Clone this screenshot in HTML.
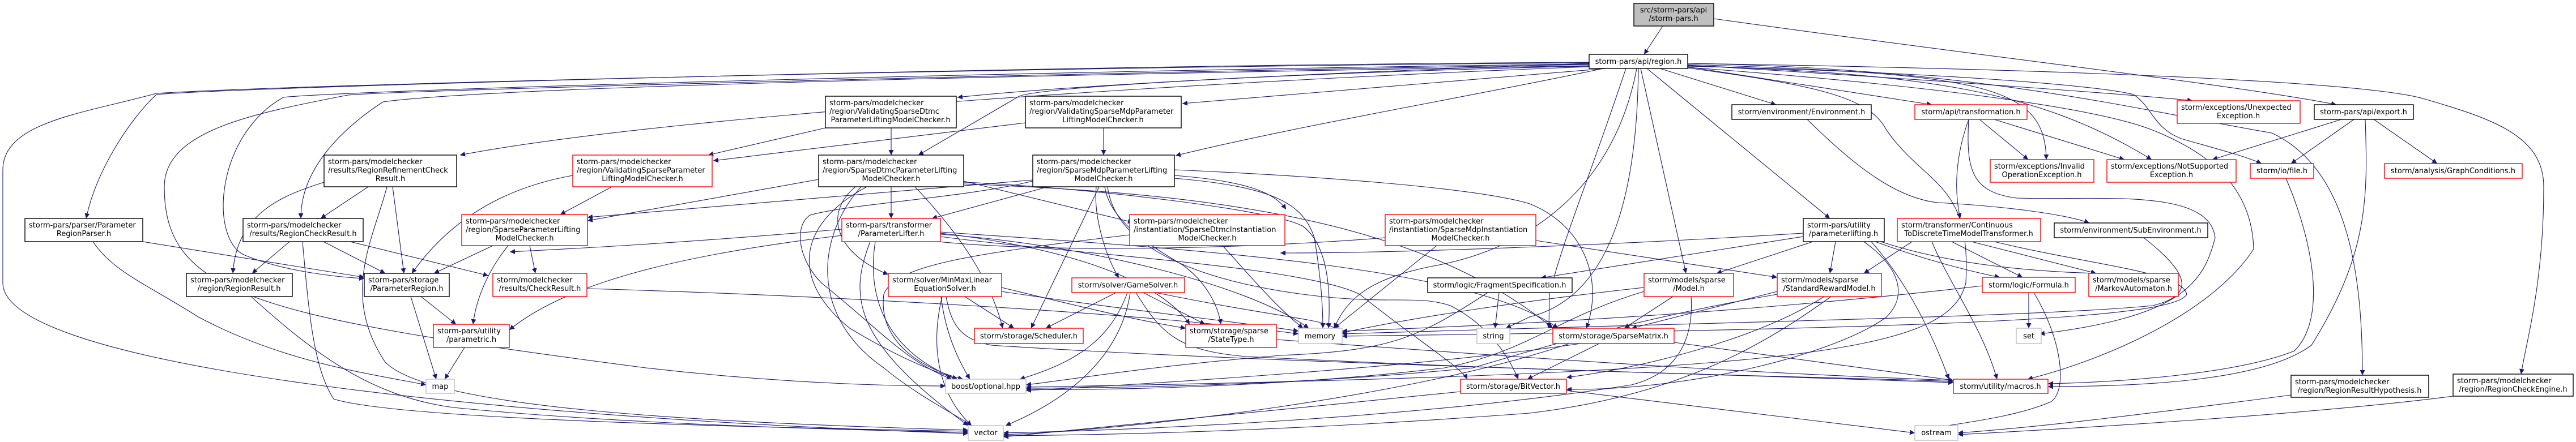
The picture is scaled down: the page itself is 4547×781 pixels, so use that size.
<!DOCTYPE html>
<html><head><meta charset="utf-8">
<style>
html,body{margin:0;padding:0;background:#fff;}
svg{display:block;}
text{font-family:"DejaVu Sans","Liberation Sans",sans-serif;font-size:13px;fill:#000;}
.e{fill:none;stroke:#191970;stroke-width:1.1;marker-end:url(#a);}
.b{fill:#fff;stroke:#000;stroke-width:1.4;}
.r{fill:#fff;stroke:#ff0000;stroke-width:1.4;}
.g{fill:#fff;stroke:#bfbfbf;stroke-width:1.4;}
</style></head><body>
<svg width="4547" height="781" viewBox="0 0 4547 781" xmlns="http://www.w3.org/2000/svg">
<defs><marker id="a" viewBox="0 0 10 10" refX="10" refY="5" markerWidth="9" markerHeight="9" markerUnits="userSpaceOnUse" orient="auto"><path d="M0,0 L10,5 L0,10 z" fill="#191970"/></marker></defs>
<g>
<!-- storm-pars.h -->
<path class="e" d="M2935,46 L2902,96"/>
<path class="e" d="M3025,33 C3500,100 3950,150 4124,185"/>
<!-- region.h edges left -->
<path class="e" d="M2805,110 C1800,115 400,155 276,167 C230,210 170,300 152,386"/>
<path class="e" d="M2805,111 C1800,118 500,150 276,165 C150,200 5,215 5,300 L5,500 C5,650 900,740 1709,766"/>
<path class="e" d="M2805,113 C1800,125 600,160 500,172 C380,240 370,420 430,450 C500,480 600,490 643,492"/>
<path class="e" d="M2805,114 C1800,130 700,160 614,168 C450,200 290,230 290,330 C290,520 450,560 1140,650 C1400,680 1600,682 1669,682"/>
<path class="e" d="M2805,116 C2000,130 900,150 676,180 C600,230 531,300 531,386"/>
<path class="e" d="M2805,118 C2200,140 1200,200 812,274"/>
<path class="e" d="M2805,112 C2300,130 1900,150 1690,172"/>
<path class="e" d="M2835,121 L2087,183"/>
<path class="e" d="M2830,121 C2600,170 2300,220 2075,275"/>
<path class="e" d="M2805,117 C2400,125 1850,150 1799,170 L1621,274"/>
<path class="e" d="M2930,121 L3135,185"/>
<path class="e" d="M2907,121 L3230,386"/>
<path class="e" d="M2896,121 L2976,483"/>
<path class="e" d="M2889,121 C2850,330 2700,440 2530,470 C2430,490 2380,520 2355,580"/>
<path class="e" d="M2892,121 C2890,300 2860,520 2700,560 L2658,580"/>
<path class="e" d="M2979,118 L3410,185"/>
<path class="e" d="M2979,115 C3400,140 3800,170 3870,178"/>
<path class="e" d="M2979,114 C3500,130 3610,150 3612,282"/>
<path class="e" d="M2979,116 C3400,130 3600,160 3798,282"/>
<path class="e" d="M2979,117 C3400,127 3700,150 3766,167 C3800,190 3800,225 3850,245 C3920,265 3960,275 3992,289"/>
<path class="e" d="M2979,119 C3400,150 3700,190 3800,230 C3900,270 3975,330 3978,440 C3900,560 3700,640 3579,670"/>
<path class="e" d="M2979,112 C3500,120 3800,200 4010,235 C4150,300 4170,500 4170,663"/>
<path class="e" d="M2979,112 C3800,125 4200,150 4280,175 C4400,210 4490,240 4490,330 C4490,500 4460,600 4450,661"/>
<path class="e" d="M2870,121 C2800,330 2760,420 2735,520 L2734,580"/>
<path class="e" d="M2979,120 C3200,150 3300,170 3330,230 C3400,330 3480,320 3470,500 C3440,620 3200,660 1811,684"/>
<!-- validating -->
<path class="e" d="M1457,226 L1250,274"/>
<path class="e" d="M1573,226 L1573,274"/>
<path class="e" d="M1810,217 L1259,284"/>
<path class="e" d="M1948,226 L1948,274"/>
<path class="e" d="M1080,330 L989,379"/>
<path class="e" d="M1011,310 C900,330 800,380 727,483"/>
<!-- results -->
<path class="e" d="M650,330 L566,386"/>
<path class="e" d="M572,322 C500,345 418,375 411,483"/>
<path class="e" d="M693,330 L713,483"/>
<path class="e" d="M683,330 C660,420 600,520 680,640 C760,720 1200,745 1709,760"/>
<path class="e" d="M511,427 L445,483"/>
<path class="e" d="M571,427 L680,483"/>
<path class="e" d="M618,427 L862,487"/>
<path class="e" d="M534,427 C545,550 553,650 589,705 C700,740 1300,755 1709,762"/>
<path class="e" d="M252,427 L643,490"/>
<path class="e" d="M164,427 C200,480 255,500 350,560 C500,640 650,660 752,680"/>
<path class="e" d="M443,524 C550,620 650,700 800,720 C1100,750 1500,760 1709,764"/>
<path class="e" d="M743,524 L805,573"/>
<path class="e" d="M725,524 L770,670"/>
<path class="e" d="M820,614 L785,670"/>
<path class="e" d="M870,434 L766,483"/>
<path class="e" d="M897,434 C860,480 840,530 835,573"/>
<path class="e" d="M935,434 L945,483"/>
<path class="e" d="M1036,510 C1400,520 2000,550 2292,590"/>
<!-- SDP / SMP -->
<path class="e" d="M1573,330 L1573,386"/>
<path class="e" d="M1701,320 L2000,393"/>
<path class="e" d="M1445,317 L1037,390"/>
<path class="e" d="M1823,318 L1037,384"/>
<path class="e" d="M1850,330 L1645,386"/>
<path class="e" d="M1935,330 C1930,380 1950,450 1975,491"/>
<path class="e" d="M1940,330 L1820,580"/>
<path class="e" d="M1950,330 C1960,400 2060,450 2090,470 C2130,500 2150,540 2155,573"/>
<path class="e" d="M2073,310 C2200,320 2250,340 2270,370"/>
<path class="e" d="M1510,330 C1450,380 1480,450 1568,485"/>
<path class="e" d="M1530,330 C1400,400 1400,500 1500,580 C1600,640 1660,660 1690,670"/>
<path class="e" d="M1520,330 C1440,420 1430,560 1560,650 C1620,700 1700,740 1715,752"/>
<path class="e" d="M1615,330 C1700,420 1750,500 1770,580"/>
<path class="e" d="M1701,325 C2100,340 2500,380 2741,580"/>
<path class="e" d="M1701,322 C1900,330 2250,370 2300,400 C2340,430 2350,500 2345,580"/>
<path class="e" d="M1823,320 C1700,350 1500,360 1430,380 C1400,400 1410,460 1450,500 C1550,580 1600,640 1680,670"/>
<path class="e" d="M2073,315 C2250,330 2300,360 2320,420 C2330,480 2335,530 2335,580"/>
<path class="e" d="M2073,300 C2300,310 2600,330 2700,360 C2800,400 2830,500 2800,580"/>
<path class="e" d="M1955,330 C1970,450 2150,500 2300,520 C2450,540 2500,520 2560,540 C2600,560 2650,600 2680,670"/>
<!-- ParameterLifter -->
<path class="e" d="M1486,416 C1200,450 1000,500 899,583"/>
<path class="e" d="M1486,405 C1200,430 1000,440 900,445"/>
<path class="e" d="M1536,427 C1500,520 1500,600 1709,752"/>
<path class="e" d="M1545,427 C1530,520 1560,620 1690,670"/>
<path class="e" d="M1660,410 C2100,440 2600,470 2750,580"/>
<path class="e" d="M1660,412 C1900,440 2050,500 2100,573"/>
<path class="e" d="M1660,414 C1900,430 2200,500 2310,580"/>
<path class="e" d="M1660,418 C1900,450 2300,470 2400,520 C2500,600 2580,650 2590,670"/>
<!-- SDI / SMI -->
<path class="e" d="M2158,434 C2200,480 2250,540 2300,580"/>
<path class="e" d="M1994,415 C1700,450 1580,470 1560,520 C1550,600 1620,650 1700,670"/>
<path class="e" d="M2536,434 L2355,580"/>
<path class="e" d="M2711,425 L3137,490"/>
<path class="e" d="M2445,420 C2200,440 1800,450 1600,420"/>
<!-- FS / Model / SRM / SM / BV -->
<path class="e" d="M2646,517 L2639,580"/>
<path class="e" d="M2626,517 C2500,600 2450,620 2260,628 C2000,650 1900,670 1811,680"/>
<path class="e" d="M2953,524 L2867,580"/>
<path class="e" d="M2902,508 C2700,530 2500,560 2369,588"/>
<path class="e" d="M2902,515 C2750,560 2700,620 2550,650 C2300,680 2000,690 1811,688"/>
<path class="e" d="M2985,524 C2990,600 2960,660 2880,680 C2500,740 2000,760 1771,765"/>
<path class="e" d="M3137,515 L2880,580"/>
<path class="e" d="M3220,524 C3100,600 2900,650 2765,667"/>
<path class="e" d="M3232,524 C3100,620 2950,700 2700,730 C2300,760 2000,768 1771,770"/>
<path class="e" d="M3137,520 C2900,560 2700,620 2600,650 C2300,680 2000,685 1811,686"/>
<path class="e" d="M2823,607 L2696,670"/>
<path class="e" d="M2955,605 L3448,672"/>
<path class="e" d="M2790,607 C2500,650 2000,680 1811,690"/>
<path class="e" d="M2770,607 C2500,700 2000,760 1771,768"/>
<path class="e" d="M2765,690 L3380,765"/>
<path class="e" d="M2578,692 C2300,720 2000,750 1771,772"/>
<!-- parameterlifting -->
<path class="e" d="M3183,418 L2720,491"/>
<path class="e" d="M3200,427 L3030,483"/>
<path class="e" d="M3240,427 L3230,483"/>
<path class="e" d="M3303,427 C3350,480 3400,560 3440,670"/>
<path class="e" d="M3310,427 C3400,460 3480,480 3530,490"/>
<path class="e" d="M3320,427 C3450,470 3600,480 3700,483"/>
<path class="e" d="M3183,412 C2900,430 2500,447 2260,447"/>
<path class="e" d="M3290,427 C3350,470 3370,520 3330,560 C3250,620 3000,690 2765,688"/>
<!-- CTD / TRF / ENV / SUB / Formula -->
<path class="e" d="M3375,427 L3290,483"/>
<path class="e" d="M3445,427 L3570,490"/>
<path class="e" d="M3480,427 L3700,483"/>
<path class="e" d="M3520,427 C3700,470 3850,480 3860,520 C3840,560 3500,580 2369,594"/>
<path class="e" d="M3494,211 L3580,282"/>
<path class="e" d="M3520,211 L3750,282"/>
<path class="e" d="M3475,211 C3450,280 3450,340 3460,386"/>
<path class="e" d="M3475,211 C3470,300 3480,340 3560,350 C3700,355 3900,330 3910,420 C3890,500 3850,560 3600,590"/>
<path class="e" d="M3190,211 C3280,300 3350,350 3420,358 C3550,365 3650,380 3688,394"/>
<path class="e" d="M3784,420 C3860,480 3880,520 3800,540 C3600,560 3000,570 2369,590"/>
<path class="e" d="M3581,517 L3581,580"/>
<path class="e" d="M3499,505 C3200,540 2800,570 2369,585"/>
<path class="e" d="M3590,517 C3640,600 3650,690 3620,710 C3550,740 3450,748 3380,762"/>
<path class="e" d="M3410,427 C3440,500 3500,580 3525,670"/>
<!-- export / file -->
<path class="e" d="M4133,211 L3905,282"/>
<path class="e" d="M4155,211 L4044,289"/>
<path class="e" d="M4190,211 L4302,289"/>
<path class="e" d="M4175,211 C4180,350 4180,450 4080,610 C4000,670 3800,683 3615,683"/>
<path class="e" d="M4035,315 C4080,420 4110,560 4050,620 C3950,660 3750,675 3615,678"/>
<path class="e" d="M4044,698 C3800,730 3600,755 3456,765"/>
<path class="e" d="M4330,700 C4100,730 3700,755 3456,768"/>
<!-- solvers -->
<path class="e" d="M1703,524 L1790,580"/>
<path class="e" d="M1768,508 C1900,540 2000,565 2093,580"/>
<path class="e" d="M1768,515 C2000,550 2200,570 2292,585"/>
<path class="e" d="M1661,524 C1670,600 1700,650 1712,670"/>
<path class="e" d="M1663,524 C1640,620 1660,700 1715,752"/>
<path class="e" d="M1670,524 C1680,580 1700,600 1750,610 C2200,640 3000,660 3448,676"/>
<path class="e" d="M1970,517 L1846,580"/>
<path class="e" d="M2018,517 L2127,573"/>
<path class="e" d="M1990,517 C1960,600 1900,640 1800,670"/>
<path class="e" d="M1995,517 C1980,620 1900,700 1775,752"/>
<path class="e" d="M2040,517 C2300,570 2340,560 2369,590"/>
<path class="e" d="M2005,517 C2050,590 2080,620 2200,630 C2800,660 3200,665 3448,674"/>
<path class="e" d="M2253,600 C2800,640 3100,660 3448,672"/>
</g>
<g>
<rect class="b" x="2884" y="6" width="141" height="40" style="fill:#bfbfbf"/>
<text x="2954" y="22" text-anchor="middle">src/storm-pars/api</text><text x="2954" y="37" text-anchor="middle">/storm-pars.h</text>
<rect class="b" x="2805" y="96" width="174" height="25"/><text x="2892" y="113" text-anchor="middle">storm-pars/api/region.h</text>
<rect class="b" x="3057" y="185" width="246" height="26"/><text x="3180" y="202" text-anchor="middle">storm/environment/Environment.h</text>
<rect class="r" x="3380" y="185" width="198" height="26"/><text x="3479" y="202" text-anchor="middle">storm/api/transformation.h</text>
<rect class="r" x="3843" y="178" width="217" height="40"/><text x="3850" y="194">storm/exceptions/Unexpected</text><text x="3951" y="209" text-anchor="middle">Exception.h</text>
<rect class="b" x="4085" y="185" width="175" height="26"/><text x="4172" y="202" text-anchor="middle">storm-pars/api/export.h</text>
<rect class="r" x="3513" y="282" width="183" height="40"/><text x="3520" y="298">storm/exceptions/Invalid</text><text x="3604" y="313" text-anchor="middle">OperationException.h</text>
<rect class="r" x="3719" y="282" width="228" height="40"/><text x="3726" y="298">storm/exceptions/NotSupported</text><text x="3833" y="313" text-anchor="middle">Exception.h</text>
<rect class="r" x="3972" y="289" width="112" height="26"/><text x="4028" y="306" text-anchor="middle">storm/io/file.h</text>
<rect class="r" x="4209" y="289" width="243" height="26"/><text x="4330" y="306" text-anchor="middle">storm/analysis/GraphConditions.h</text>
<rect class="r" x="3349" y="386" width="253" height="41"/><text x="3356" y="402">storm/transformer/Continuous</text><text x="3475" y="417" text-anchor="middle">ToDiscreteTimeModelTransformer.h</text>
<rect class="b" x="3626" y="394" width="271" height="26"/><text x="3761" y="411" text-anchor="middle">storm/environment/SubEnvironment.h</text>
<rect class="r" x="3499" y="490" width="164" height="27"/><text x="3581" y="508" text-anchor="middle">storm/logic/Formula.h</text>
<rect class="r" x="3687" y="483" width="158" height="41"/><text x="3694" y="499">storm/models/sparse</text><text x="3766" y="514" text-anchor="middle">/MarkovAutomaton.h</text>
<rect class="g" x="3559" y="580" width="44" height="27"/><text x="3581" y="598" text-anchor="middle">set</text>
<rect class="r" x="3448" y="670" width="167" height="25"/><text x="3531" y="687" text-anchor="middle">storm/utility/macros.h</text>
<rect class="b" x="4044" y="663" width="243" height="39"/><text x="4051" y="679">storm-pars/modelchecker</text><text x="4165" y="694" text-anchor="middle">/region/RegionResultHypothesis.h</text>
<rect class="b" x="4330" y="661" width="212" height="39"/><text x="4337" y="677">storm-pars/modelchecker</text><text x="4436" y="692" text-anchor="middle">/region/RegionCheckEngine.h</text>
<rect class="g" x="3380" y="752" width="76" height="26"/><text x="3418" y="769" text-anchor="middle">ostream</text>
<rect class="b" x="3183" y="386" width="143" height="41"/><text x="3190" y="402">storm-pars/utility</text><text x="3254" y="417" text-anchor="middle">/parameterlifting.h</text>
<rect class="r" x="2902" y="483" width="158" height="41"/><text x="2909" y="499">storm/models/sparse</text><text x="2981" y="514" text-anchor="middle">/Model.h</text>
<rect class="r" x="3137" y="483" width="184" height="41"/><text x="3144" y="499">storm/models/sparse</text><text x="3229" y="514" text-anchor="middle">/StandardRewardModel.h</text>
<rect class="r" x="2445" y="379" width="266" height="55"/><text x="2452" y="395">storm-pars/modelchecker</text><text x="2452" y="410">/instantiation/SparseMdpInstantiation</text><text x="2578" y="425" text-anchor="middle">ModelChecker.h</text>
<rect class="b" x="2520" y="491" width="255" height="26"/><text x="2647" y="508" text-anchor="middle">storm/logic/FragmentSpecification.h</text>
<rect class="g" x="2292" y="580" width="77" height="27"/><text x="2330" y="598" text-anchor="middle">memory</text>
<rect class="g" x="2607" y="580" width="58" height="27"/><text x="2636" y="598" text-anchor="middle">string</text>
<rect class="r" x="2741" y="580" width="214" height="27"/><text x="2848" y="598" text-anchor="middle">storm/storage/SparseMatrix.h</text>
<rect class="r" x="2578" y="670" width="187" height="25"/><text x="2671" y="687" text-anchor="middle">storm/storage/BitVector.h</text>
<rect class="b" x="1457" y="170" width="231" height="56"/><text x="1464" y="186">storm-pars/modelchecker</text><text x="1464" y="201">/region/ValidatingSparseDtmc</text><text x="1572" y="216" text-anchor="middle">ParameterLiftingModelChecker.h</text>
<rect class="b" x="1810" y="170" width="275" height="56"/><text x="1817" y="186">storm-pars/modelchecker</text><text x="1817" y="201">/region/ValidatingSparseMdpParameter</text><text x="1947" y="216" text-anchor="middle">LiftingModelChecker.h</text>
<rect class="r" x="1011" y="274" width="246" height="56"/><text x="1018" y="290">storm-pars/modelchecker</text><text x="1018" y="305">/region/ValidatingSparseParameter</text><text x="1134" y="320" text-anchor="middle">LiftingModelChecker.h</text>
<rect class="b" x="1445" y="274" width="256" height="56"/><text x="1452" y="290">storm-pars/modelchecker</text><text x="1452" y="305">/region/SparseDtmcParameterLifting</text><text x="1573" y="320" text-anchor="middle">ModelChecker.h</text>
<rect class="b" x="1823" y="274" width="250" height="56"/><text x="1830" y="290">storm-pars/modelchecker</text><text x="1830" y="305">/region/SparseMdpParameterLifting</text><text x="1948" y="320" text-anchor="middle">ModelChecker.h</text>
<rect class="r" x="1486" y="386" width="174" height="41"/><text x="1493" y="402">storm-pars/transformer</text><text x="1573" y="417" text-anchor="middle">/ParameterLifter.h</text>
<rect class="r" x="1994" y="379" width="274" height="55"/><text x="2001" y="395">storm-pars/modelchecker</text><text x="2001" y="410">/instantiation/SparseDtmcInstantiation</text><text x="2131" y="425" text-anchor="middle">ModelChecker.h</text>
<rect class="r" x="1568" y="483" width="200" height="41"/><text x="1575" y="499">storm/solver/MinMaxLinear</text><text x="1668" y="514" text-anchor="middle">EquationSolver.h</text>
<rect class="r" x="1892" y="491" width="199" height="26"/><text x="1991" y="508" text-anchor="middle">storm/solver/GameSolver.h</text>
<rect class="r" x="1720" y="580" width="192" height="27"/><text x="1816" y="598" text-anchor="middle">storm/storage/Scheduler.h</text>
<rect class="r" x="2093" y="573" width="160" height="41"/><text x="2100" y="589">storm/storage/sparse</text><text x="2173" y="604" text-anchor="middle">/StateType.h</text>
<rect class="g" x="1669" y="670" width="142" height="25"/><text x="1740" y="687" text-anchor="middle">boost/optional.hpp</text>
<rect class="g" x="1709" y="752" width="62" height="26"/><text x="1740" y="769" text-anchor="middle">vector</text>
<rect class="b" x="44" y="386" width="208" height="41"/><text x="51" y="402">storm-pars/parser/Parameter</text><text x="148" y="417" text-anchor="middle">RegionParser.h</text>
<rect class="b" x="572" y="274" width="234" height="56"/><text x="579" y="290">storm-pars/modelchecker</text><text x="579" y="305">/results/RegionRefinementCheck</text><text x="689" y="320" text-anchor="middle">Result.h</text>
<rect class="b" x="429" y="386" width="212" height="41"/><text x="436" y="402">storm-pars/modelchecker</text><text x="535" y="417" text-anchor="middle">/results/RegionCheckResult.h</text>
<rect class="r" x="815" y="379" width="222" height="55"/><text x="822" y="395">storm-pars/modelchecker</text><text x="822" y="410">/region/SparseParameterLifting</text><text x="926" y="425" text-anchor="middle">ModelChecker.h</text>
<rect class="b" x="329" y="483" width="187" height="41"/><text x="336" y="499">storm-pars/modelchecker</text><text x="422" y="514" text-anchor="middle">/region/RegionResult.h</text>
<rect class="b" x="643" y="483" width="150" height="41"/><text x="650" y="499">storm-pars/storage</text><text x="718" y="514" text-anchor="middle">/ParameterRegion.h</text>
<rect class="r" x="870" y="483" width="166" height="41"/><text x="877" y="499">storm/modelchecker</text><text x="953" y="514" text-anchor="middle">/results/CheckResult.h</text>
<rect class="r" x="765" y="573" width="134" height="41"/><text x="772" y="589">storm-pars/utility</text><text x="832" y="604" text-anchor="middle">/parametric.h</text>
<rect class="g" x="752" y="670" width="50" height="25"/><text x="777" y="687" text-anchor="middle">map</text>
</g>
</svg>
</body></html>
